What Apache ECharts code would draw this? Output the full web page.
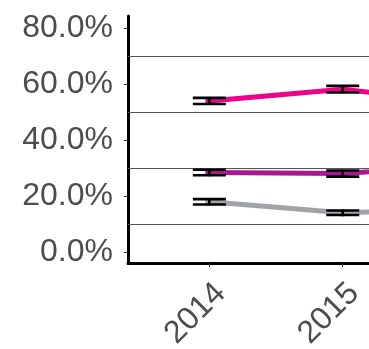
<!DOCTYPE html>
<html>
<head>
<meta charset="utf-8">
<script src="https://cdn.jsdelivr.net/npm/echarts@6/dist/echarts.min.js"></script>
<style>
html,body{margin:0;padding:0;background:#fff;}
#c{width:369px;height:349px;}
</style>
</head>
<body>
<div id="c"></div>
<script>
// Data
const years = [2014, 2015, 2016];
const pinkVals = [54.0, 58.2, 52.5];
const pinkErr = [1.1, 1.2, 1.2];
const purpleVals = [28.4, 28.0, 31.5];
const purpleErr = [1.0, 1.1, 1.1];
const grayVals = [17.9, 14.0, 15.5];
const grayErr = [0.95, 0.8, 0.8];
const yTickVals = [0, 20, 40, 60, 80];
const gridVals = [10, 30, 50, 70];
const xTickYears = [2014, 2015];

const colors = { pink: '#EC008C', purple: '#A8198F', gray: '#A0A3A8' };

function pts(vals) { return years.map((y, i) => [y, vals[i]]); }
function errs(vals, e) { return years.map((y, i) => [y, vals[i] - e[i], vals[i] + e[i]]); }

function lineSeries(name, vals, color, extra) {
  return Object.assign({
    name: name, type: 'line', data: pts(vals), clip: true,
    symbol: 'circle', symbolSize: 8, showSymbol: true,
    lineStyle: { color: color, width: 5 },
    itemStyle: { color: color },
    z: 3
  }, extra || {});
}
function errSeries(vals, e) {
  return {
    type: 'custom', data: errs(vals, e), clip: true, z: 4,
    renderItem: function (params, api) {
      const x = api.value(0);
      const lo = api.coord([x, api.value(1)]);
      const hi = api.coord([x, api.value(2)]);
      const hw = 16.5;
      const st = { stroke: '#000', lineWidth: 2.6 };
      return {
        type: 'group', children: [
          { type: 'line', shape: { x1: lo[0], y1: lo[1], x2: hi[0], y2: hi[1] }, style: st },
          { type: 'line', shape: { x1: lo[0] - hw, y1: lo[1], x2: lo[0] + hw, y2: lo[1] }, style: st },
          { type: 'line', shape: { x1: hi[0] - hw, y1: hi[1], x2: hi[0] + hw, y2: hi[1] }, style: st }
        ]
      };
    }
  };
}

const chart = echarts.init(document.getElementById('c'), null, { renderer: 'canvas' });
chart.setOption({
  animation: false,
  backgroundColor: '#fff',
  grid: { left: 128, right: 0, top: 16, bottom: 86, containLabel: false, outerBoundsMode: 'none' },
  xAxis: {
    type: 'value', min: 2013.39, max: 2015.197,
    splitLine: { show: false },
    axisLine: { show: true, onZero: false, lineStyle: { color: '#000', width: 3 } },
    axisTick: { show: true, customValues: xTickYears, length: 4, lineStyle: { color: '#333', width: 1 } },
    axisLabel: {
      customValues: xTickYears, rotate: 45, margin: 14, verticalAlign: 'top',
      fontFamily: 'Liberation Sans, Arial, sans-serif', fontSize: 32, color: '#4D4D4D',
      formatter: v => String(v)
    }
  },
  yAxis: {
    type: 'value', min: -4, max: 84.4,
    splitLine: { show: false },
    axisLine: { show: true, onZero: false, lineStyle: { color: '#000', width: 3 } },
    axisTick: { show: true, customValues: yTickVals, length: 4, lineStyle: { color: '#333', width: 1 } },
    axisLabel: {
      customValues: yTickVals, margin: 15,
      fontFamily: 'Liberation Sans, Arial, sans-serif', fontSize: 32, color: '#4D4D4D',
      formatter: v => v.toFixed(1) + '%'
    }
  },
  series: [
    lineSeries('gray', grayVals, colors.gray, {
      markLine: {
        silent: true, symbol: 'none', label: { show: false },
        lineStyle: { color: '#555', width: 1, type: 'solid' },
        data: gridVals.map(v => ({ yAxis: v })), z: 1
      }
    }),
    lineSeries('purple', purpleVals, colors.purple),
    lineSeries('pink', pinkVals, colors.pink),
    errSeries(grayVals, grayErr),
    errSeries(purpleVals, purpleErr),
    errSeries(pinkVals, pinkErr)
  ]
});
</script>
</body>
</html>
